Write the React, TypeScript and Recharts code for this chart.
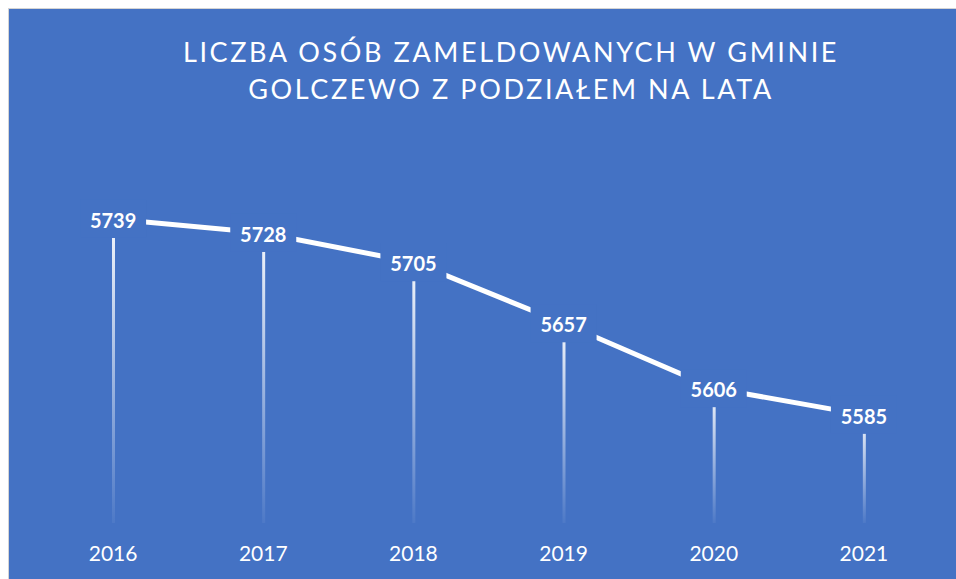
import { ComposedChart, Line, Bar, XAxis, YAxis, LabelList } from 'recharts'

const years = ['2016', '2017', '2018', '2019', '2020', '2021']
const residents = [5739, 5728, 5705, 5657, 5606, 5585]
const titleLines = ['LICZBA OSÓB ZAMELDOWANYCH W GMINIE', 'GOLCZEWO Z PODZIAŁEM NA LATA']

const BG = '#4472C4'

const data = years.map((year, i) => ({ year, value: residents[i] }))

function ValueLabel(props: any) {
  const { x, y, value } = props
  if (x == null || y == null) return null
  return (
    <g>
      <rect x={x - 33} y={y - 19} width={66} height={38} fill={BG} />
      <text
        x={x}
        y={y + 1}
        textAnchor="middle"
        dominantBaseline="central"
        fill="#ffffff"
        fontFamily="Lato, sans-serif"
        fontWeight={700}
        fontSize={20}
      >
        {value}
      </text>
    </g>
  )
}

export default function App() {
  return (
    <div style={{ width: '956px', height: '579px', overflow: 'hidden', boxSizing: 'border-box', padding: '8px 0 0 8px' }}>
      <style>{'html, body { margin: 0; padding: 0; overflow: hidden; }'}</style>
      <div
        style={{
          position: 'relative',
          width: '948px',
          height: '571px',
          boxSizing: 'border-box',
          background: BG,
          borderTop: '1px solid #d4d4d4',
          borderLeft: '1px solid #d4d4d4',
          fontFamily: 'Lato, sans-serif',
          overflow: 'hidden',
        }}
      >
        <div
          style={{
            position: 'absolute',
            left: '-98px',
            top: '24px',
            width: '1200px',
            textAlign: 'center',
            whiteSpace: 'nowrap',
            color: '#ffffff',
            fontSize: '27px',
            lineHeight: '37px',
            letterSpacing: '2.6px',
          }}
        >
          {titleLines.map((t) => (
            <div key={t}>{t}</div>
          ))}
        </div>

        <ComposedChart
          width={947}
          height={570}
          data={data}
          margin={{ top: 196, right: 17, bottom: 0, left: 29 }}
        >
          <defs>
            <linearGradient id="dropFade" x1="0" y1="0" x2="0" y2="1">
              <stop offset="0%" stopColor="#ffffff" stopOpacity={0.95} />
              <stop offset="100%" stopColor="#ffffff" stopOpacity={0.05} />
            </linearGradient>
          </defs>
          <XAxis
            dataKey="year"
            height={56}
            axisLine={false}
            tickLine={false}
            tickSize={0}
            tickMargin={23}
            tick={{ fill: '#ffffff', fontSize: 21, fontFamily: 'Lato, sans-serif' }}
          />
          <YAxis hide domain={[5500, 5750]} />
          <Bar dataKey="value" barSize={3} fill="url(#dropFade)" isAnimationActive={false} />
          <Line
            dataKey="value"
            type="linear"
            stroke="#ffffff"
            strokeWidth={5}
            dot={false}
            activeDot={false}
            isAnimationActive={false}
          >
            <LabelList dataKey="value" content={ValueLabel} />
          </Line>
        </ComposedChart>
      </div>
    </div>
  )
}
